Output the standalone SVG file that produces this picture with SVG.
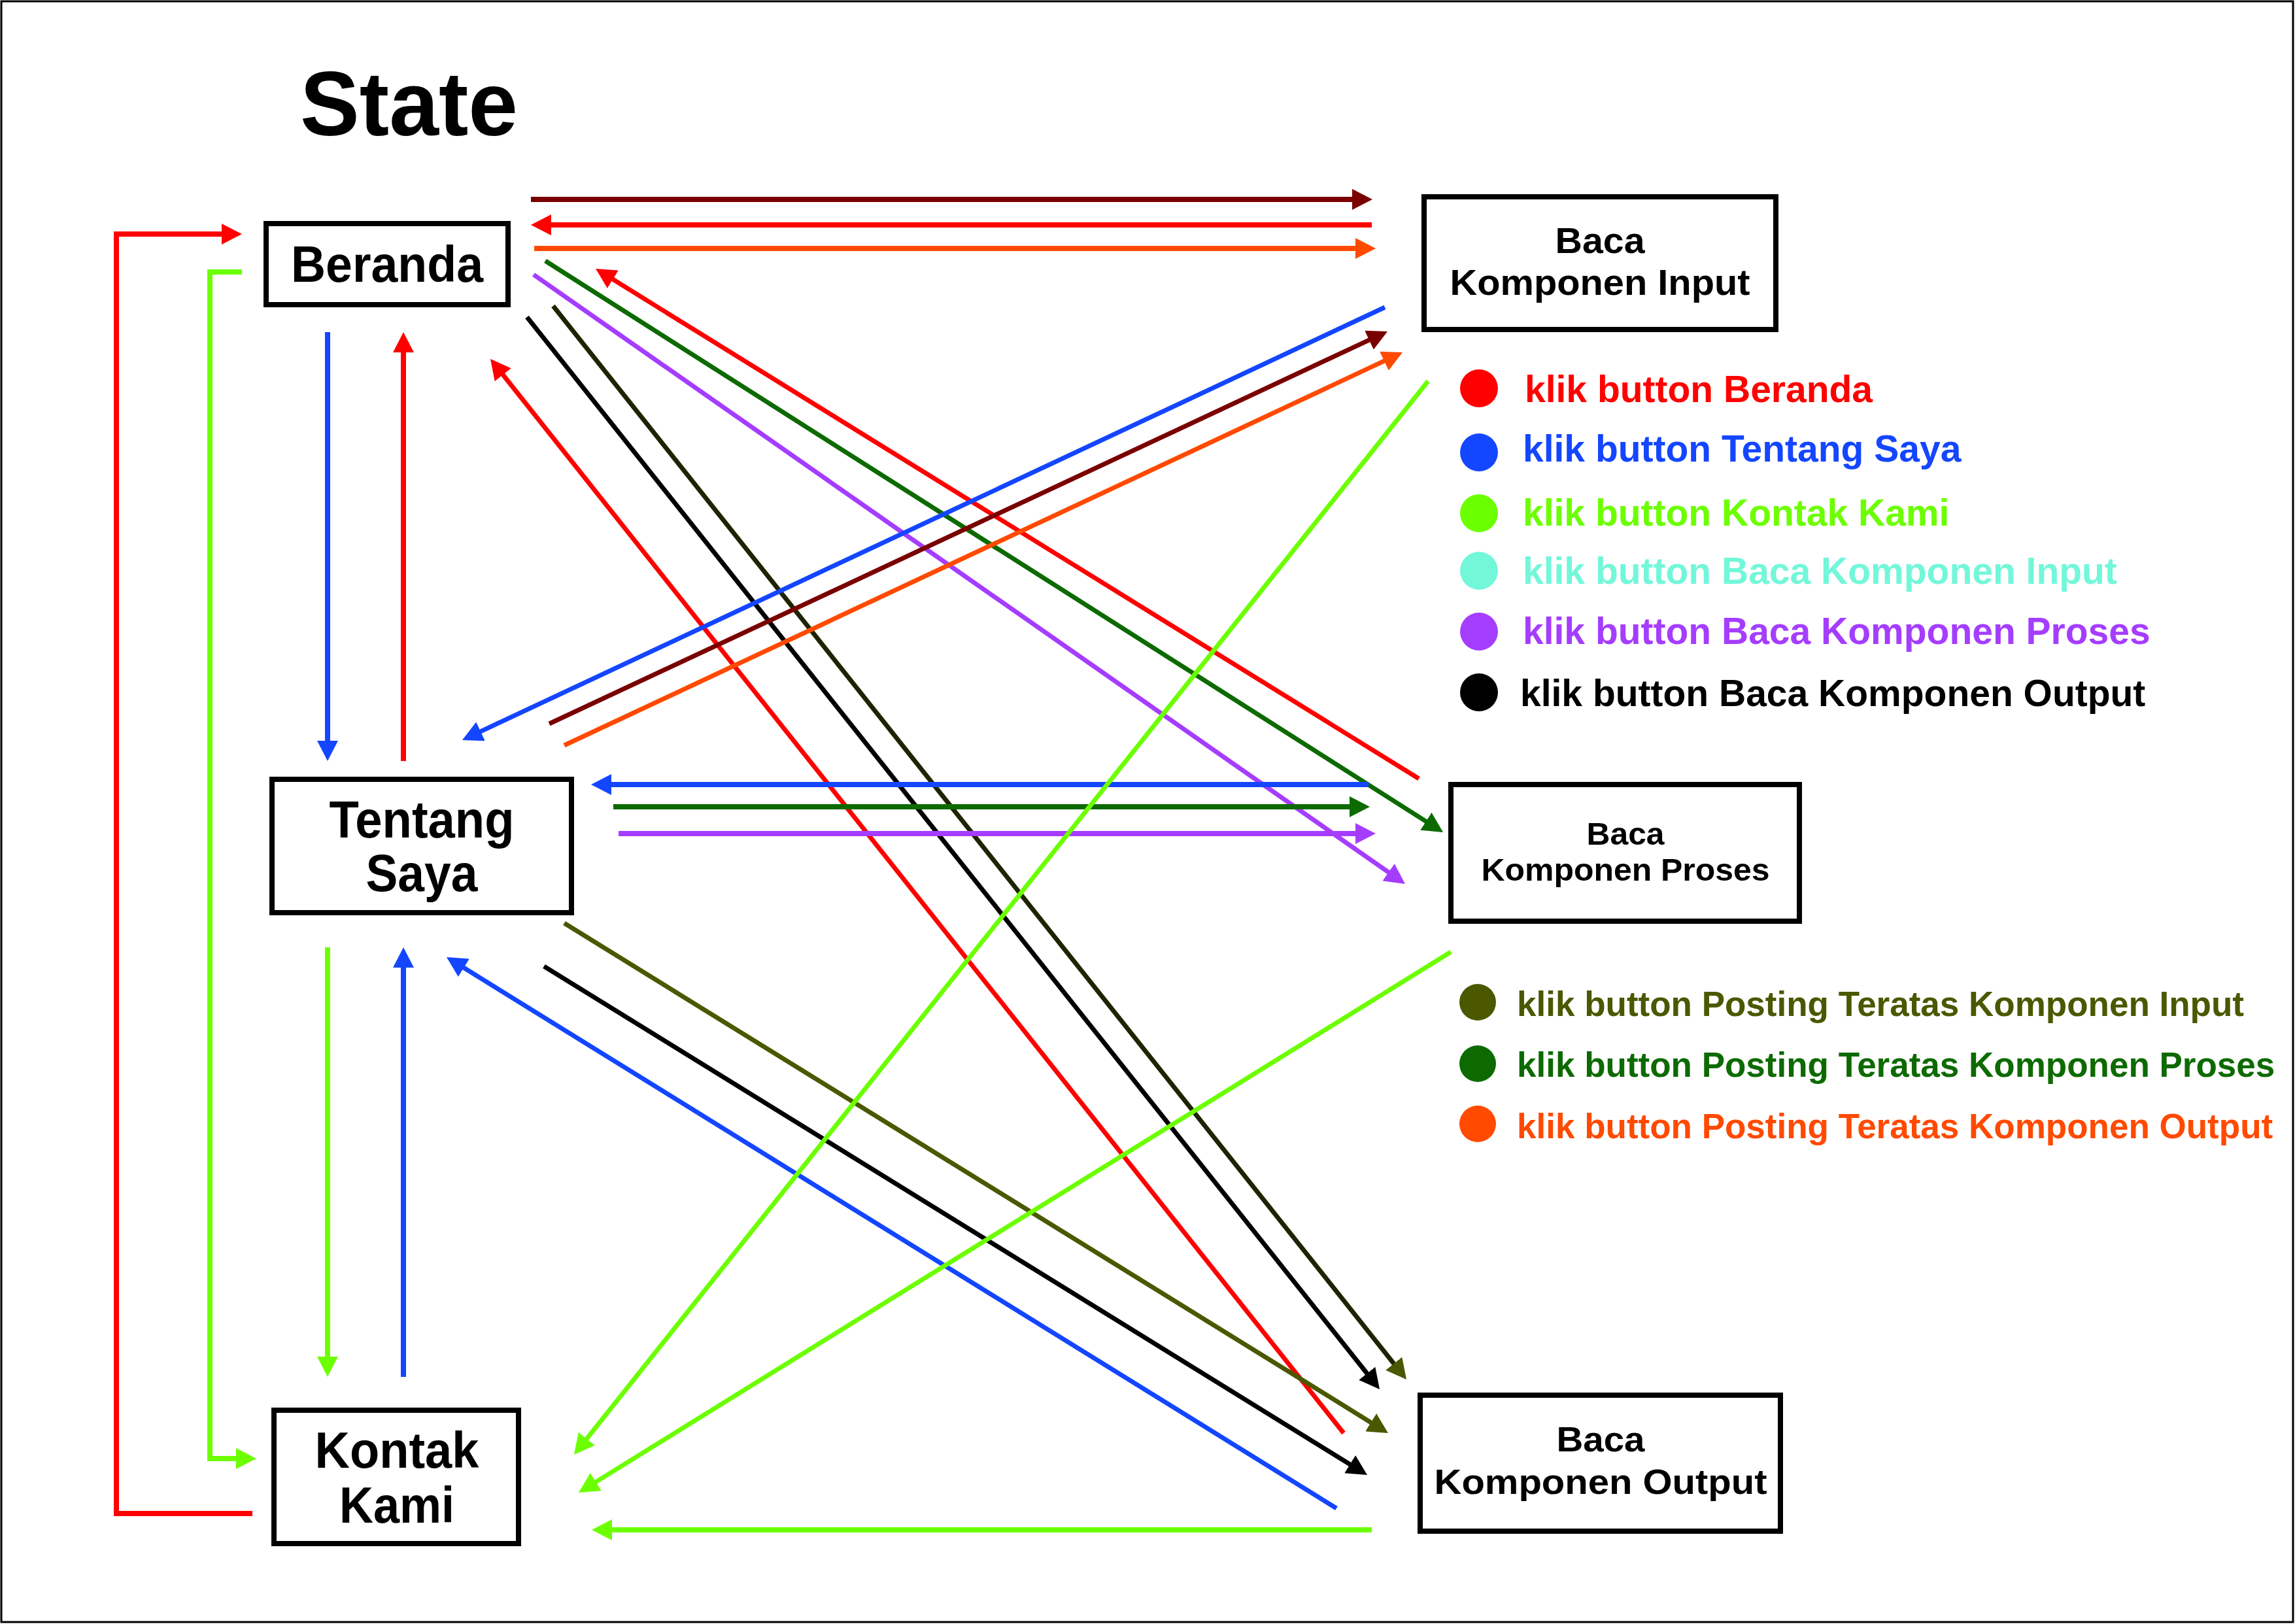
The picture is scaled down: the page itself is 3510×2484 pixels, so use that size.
<svg xmlns="http://www.w3.org/2000/svg" width="3510" height="2484" viewBox="0 0 3510 2484">
<style>
.node rect{fill:#fff;stroke:#000;stroke-width:8}
.lbl{font-family:"Liberation Sans",Arial,sans-serif;font-weight:bold;fill:#000;text-anchor:middle}
.leg{font-family:"Liberation Sans",Arial,sans-serif;font-weight:bold;font-size:57px}
.leg2{font-family:"Liberation Sans",Arial,sans-serif;font-weight:bold;font-size:53px}
.c line,.c path{fill:none;stroke-linecap:butt}
.h{stroke-width:8}
.d{stroke-width:7}
</style>
<defs>
<marker id="aRed" markerUnits="userSpaceOnUse" markerWidth="32" markerHeight="32" refX="7" refY="16" orient="auto"><path d="M0,0 L31,16 L0,32 z" fill="#FF0000"/></marker>
<marker id="aBlue" markerUnits="userSpaceOnUse" markerWidth="32" markerHeight="32" refX="7" refY="16" orient="auto"><path d="M0,0 L31,16 L0,32 z" fill="#1446FF"/></marker>
<marker id="aLime" markerUnits="userSpaceOnUse" markerWidth="32" markerHeight="32" refX="7" refY="16" orient="auto"><path d="M0,0 L31,16 L0,32 z" fill="#6CFF00"/></marker>
<marker id="aPurple" markerUnits="userSpaceOnUse" markerWidth="32" markerHeight="32" refX="7" refY="16" orient="auto"><path d="M0,0 L31,16 L0,32 z" fill="#A53DFF"/></marker>
<marker id="aBlack" markerUnits="userSpaceOnUse" markerWidth="32" markerHeight="32" refX="7" refY="16" orient="auto"><path d="M0,0 L31,16 L0,32 z" fill="#000000"/></marker>
<marker id="aOlive" markerUnits="userSpaceOnUse" markerWidth="32" markerHeight="32" refX="7" refY="16" orient="auto"><path d="M0,0 L31,16 L0,32 z" fill="#4B5800"/></marker>
<marker id="aGreen" markerUnits="userSpaceOnUse" markerWidth="32" markerHeight="32" refX="7" refY="16" orient="auto"><path d="M0,0 L31,16 L0,32 z" fill="#0D6A00"/></marker>
<marker id="aOrange" markerUnits="userSpaceOnUse" markerWidth="32" markerHeight="32" refX="7" refY="16" orient="auto"><path d="M0,0 L31,16 L0,32 z" fill="#FF4A00"/></marker>
<marker id="aMaroon" markerUnits="userSpaceOnUse" markerWidth="32" markerHeight="32" refX="7" refY="16" orient="auto"><path d="M0,0 L31,16 L0,32 z" fill="#7A0000"/></marker>
</defs>
<rect x="0" y="0" width="3510" height="2484" fill="#fff"/>
<rect x="2" y="2" width="3505" height="2479" fill="none" stroke="#000" stroke-width="3"/>
<text x="459" y="207" font-family="'Liberation Sans',Arial,sans-serif" font-weight="bold" font-size="140" textLength="333" lengthAdjust="spacingAndGlyphs">State</text>

<g id="connectors" class="c">
<line class="h" x1="812" y1="305" x2="2075" y2="305" stroke="#7A0000" marker-end="url(#aMaroon)"/>
<line class="h" x1="2098" y1="344" x2="836" y2="344" stroke="#FF0000" marker-end="url(#aRed)"/>
<line class="h" x1="817" y1="380" x2="2080" y2="380" stroke="#FF4A00" marker-end="url(#aOrange)"/>
<line class="d" x1="834" y1="399" x2="2186.8" y2="1260.1" stroke="#0D6A00" marker-end="url(#aGreen)"/>
<line class="d" x1="816" y1="420" x2="2129.3" y2="1338.2" stroke="#A53DFF" marker-end="url(#aPurple)"/>
<line class="d" x1="2170" y1="1191" x2="931.4" y2="423.6" stroke="#FF0000" marker-end="url(#aRed)"/>
<line class="d" x1="806" y1="485" x2="2095.1" y2="2106.2" stroke="#000" marker-end="url(#aBlack)"/>
<line class="d" x1="846" y1="468" x2="2136.1" y2="2091.2" stroke="#1E2400" marker-end="url(#aOlive)"/>
<line class="d" x1="2055" y1="2192" x2="764.9" y2="567.8" stroke="#FF0000" marker-end="url(#aRed)"/>
<line class="d" x1="2118" y1="470" x2="728.7" y2="1121.8" stroke="#1446FF" marker-end="url(#aBlue)"/>
<line class="d" x1="840" y1="1107" x2="2100.3" y2="517.2" stroke="#7A0000" marker-end="url(#aMaroon)"/>
<line class="d" x1="863" y1="1140" x2="2123.3" y2="549.2" stroke="#FF4A00" marker-end="url(#aOrange)"/>
<line class="h" x1="2093" y1="1200" x2="928" y2="1200" stroke="#1446FF" marker-end="url(#aBlue)"/>
<line class="h" x1="938" y1="1234" x2="2071" y2="1234" stroke="#0D6A00" marker-end="url(#aGreen)"/>
<line class="h" x1="946" y1="1275" x2="2080" y2="1275" stroke="#A53DFF" marker-end="url(#aPurple)"/>
<line class="d" x1="863" y1="1412" x2="2102.6" y2="2179.4" stroke="#4B5800" marker-end="url(#aOlive)"/>
<line class="d" x1="832" y1="1478" x2="2070.6" y2="2243.4" stroke="#000" marker-end="url(#aBlack)"/>
<line class="d" x1="2044" y1="2307" x2="703.4" y2="1476.6" stroke="#1446FF" marker-end="url(#aBlue)"/>
<line class="d" x1="2184" y1="583" x2="892.9" y2="2206.2" stroke="#6CFF00" marker-end="url(#aLime)"/>
<line class="d" x1="2219" y1="1456" x2="905.4" y2="2270.4" stroke="#6CFF00" marker-end="url(#aLime)"/>
<line class="h" x1="2098" y1="2340" x2="929" y2="2340" stroke="#6CFF00" marker-end="url(#aLime)"/>
<line class="h" x1="501" y1="508" x2="501" y2="1140" stroke="#1446FF" marker-end="url(#aBlue)"/>
<line class="h" x1="617" y1="1164" x2="617" y2="532" stroke="#FF0000" marker-end="url(#aRed)"/>
<line class="h" x1="501" y1="1449" x2="501" y2="2082" stroke="#6CFF00" marker-end="url(#aLime)"/>
<line class="h" x1="617" y1="2106" x2="617" y2="1473" stroke="#1446FF" marker-end="url(#aBlue)"/>
<path class="h" d="M386,2315 H178 V358 H346" stroke="#FF0000" marker-end="url(#aRed)"/>
<path class="h" d="M370,416 H321 V2231 H368" stroke="#6CFF00" marker-end="url(#aLime)"/>
</g>

<g id="beranda" class="node">
<rect x="407" y="342" width="370" height="124"/>
<text class="lbl" x="592" y="431" font-size="77" textLength="294" lengthAdjust="spacingAndGlyphs">Beranda</text>
</g>
<g id="tentang-saya" class="node">
<rect x="416" y="1192" width="458" height="204"/>
<text class="lbl" x="645" y="1281" font-size="80" textLength="283" lengthAdjust="spacingAndGlyphs">Tentang</text>
<text class="lbl" x="645" y="1363" font-size="80" textLength="171" lengthAdjust="spacingAndGlyphs">Saya</text>
</g>
<g id="kontak-kami" class="node">
<rect x="419" y="2157" width="374" height="204"/>
<text class="lbl" x="607" y="2245" font-size="77" textLength="251" lengthAdjust="spacingAndGlyphs">Kontak</text>
<text class="lbl" x="607" y="2329" font-size="77" textLength="176" lengthAdjust="spacingAndGlyphs">Kami</text>
</g>
<g id="baca-komponen-input" class="node">
<rect x="2178" y="301" width="538" height="203"/>
<text class="lbl" x="2447" y="387" font-size="55" textLength="137" lengthAdjust="spacingAndGlyphs">Baca</text>
<text class="lbl" x="2447" y="451" font-size="55" textLength="459" lengthAdjust="spacingAndGlyphs">Komponen Input</text>
</g>
<g id="baca-komponen-proses" class="node">
<rect x="2219" y="1200" width="533" height="209"/>
<text class="lbl" x="2486" y="1292" font-size="48" textLength="119" lengthAdjust="spacingAndGlyphs">Baca</text>
<text class="lbl" x="2486" y="1347" font-size="48" textLength="441" lengthAdjust="spacingAndGlyphs">Komponen Proses</text>
</g>
<g id="baca-komponen-output" class="node">
<rect x="2172" y="2134" width="551" height="208"/>
<text class="lbl" x="2448" y="2220" font-size="53" textLength="135" lengthAdjust="spacingAndGlyphs">Baca</text>
<text class="lbl" x="2448" y="2285" font-size="53" textLength="509" lengthAdjust="spacingAndGlyphs">Komponen Output</text>
</g>

<g id="legend">
<circle cx="2262" cy="594" r="29" fill="#FF0000"/>
<text class="leg" x="2332" y="615" fill="#FF0000">klik button Beranda</text>
<circle cx="2262" cy="692" r="29" fill="#1446FF"/>
<text class="leg" x="2329" y="706" fill="#1446FF">klik button Tentang Saya</text>
<circle cx="2262" cy="785" r="29" fill="#6CFF00"/>
<text class="leg" x="2329" y="804" fill="#6CFF00">klik button Kontak Kami</text>
<circle cx="2262" cy="873" r="29" fill="#72F7D9"/>
<text class="leg" x="2329" y="893" fill="#72F7D9">klik button Baca Komponen Input</text>
<circle cx="2262" cy="966" r="29" fill="#A53DFF"/>
<text class="leg" x="2329" y="985" fill="#A53DFF">klik button Baca Komponen Proses</text>
<circle cx="2262" cy="1059" r="29" fill="#000"/>
<text class="leg" x="2325" y="1080" fill="#000">klik button Baca Komponen Output</text>
<circle cx="2260" cy="1533" r="28" fill="#4B5800"/>
<text class="leg2" x="2320" y="1554" fill="#4B5800">klik button Posting Teratas Komponen Input</text>
<circle cx="2260" cy="1627" r="28" fill="#0D6A00"/>
<text class="leg2" x="2320" y="1647" fill="#0D6A00">klik button Posting Teratas Komponen Proses</text>
<circle cx="2260" cy="1719" r="28" fill="#FF4A00"/>
<text class="leg2" x="2320" y="1741" fill="#FF4A00">klik button Posting Teratas Komponen Output</text>
</g>
</svg>
